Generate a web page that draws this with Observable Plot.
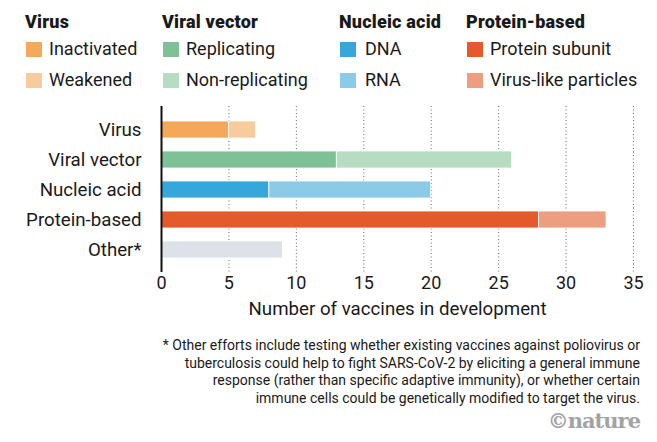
<!DOCTYPE html>
<html>
<head>
<meta charset="utf-8">
<script src="https://cdn.jsdelivr.net/npm/d3@7"></script>
<script src="https://cdn.jsdelivr.net/npm/@observablehq/plot@0.6"></script>
<style>
  html, body { margin: 0; padding: 0; background: #fff; }
  body { width: 657px; height: 442px; position: relative; overflow: hidden; font-family: Roboto, sans-serif; color: #1a1a1a; }
  .hdr { position: absolute; font-weight: 900; font-size: 18px; letter-spacing: 0.2px; line-height: 1; }
  .item { position: absolute; font-size: 18px; line-height: 1; display: flex; align-items: center; white-space: nowrap; }
  .sw { width: 16px; height: 15px; margin-right: 7px; flex: none; }
  #chart { position: absolute; left: 0; top: 90px; }
  #note { position: absolute; right: 17px; top: 337px; font-size: 14px; line-height: 17.6px; text-align: right; color: #1a1a1a; }
  #logo { position: absolute; right: 17px; top: 408px; font-family: "DejaVu Serif", serif; font-weight: 700; font-size: 21px; color: #a3a3a3; letter-spacing: -1px; }
</style>
</head>
<body>
<div id="legend"></div>
<div id="chart"></div>
<div id="note"></div>
<div id="logo">©nature</div>
<script>
// ---- data ----
const categories = ["Virus", "Viral vector", "Nucleic acid", "Protein-based", "Other*"];
const subtypes = ["Inactivated", "Weakened", "Replicating", "Non-replicating", "DNA", "RNA", "Protein subunit", "Virus-like particles", "Other"];
const subtypeCategory = ["Virus", "Virus", "Viral vector", "Viral vector", "Nucleic acid", "Nucleic acid", "Protein-based", "Protein-based", "Other*"];
const counts = [5, 2, 13, 13, 8, 12, 28, 5, 9];
const colors = ["#f4a85a", "#f8cb9c", "#7fc196", "#b6dcc2", "#35a7db", "#8bcbe8", "#e55a2b", "#ee9e80", "#dde2e9"];
const legendGroups = ["Virus", "Viral vector", "Nucleic acid", "Protein-based"];
const xTicks = [0, 5, 10, 15, 20, 25, 30, 35];
const xLabel = "Number of vaccines in development";
const noteLines = [
  "* Other efforts include testing whether existing vaccines against poliovirus or",
  "tuberculosis could help to fight SARS-CoV-2 by eliciting a general immune",
  "response (rather than specific adaptive immunity), or whether certain",
  "immune cells could be genetically modified to target the virus."
];

const data = subtypes.map((s, i) => ({subtype: s, category: subtypeCategory[i], count: counts[i]}));

// ---- legend ----
const colX = [25, 162, 339, 466];
const legend = document.getElementById("legend");
legendGroups.forEach((g, gi) => {
  const h = document.createElement("div");
  h.className = "hdr";
  h.style.left = colX[gi] + "px";
  h.style.top = "13px";
  h.textContent = g;
  legend.appendChild(h);
  subtypes.forEach((s, i) => {
    if (subtypeCategory[i] !== g) return;
    const k = subtypes.filter((t, j) => j < i && subtypeCategory[j] === g).length;
    const it = document.createElement("div");
    it.className = "item";
    it.style.left = (colX[gi] + 1) + "px";
    it.style.top = (40 + k * 31) + "px";
    const sw = document.createElement("span");
    sw.className = "sw";
    sw.style.background = colors[i];
    if (gi === 2) sw.style.marginRight = "9px";
    it.appendChild(sw);
    it.appendChild(document.createTextNode(s));
    legend.appendChild(it);
  });
});

// ---- chart ----
const chart = Plot.plot({
  width: 657,
  height: 230,
  marginLeft: 161,
  marginRight: 24,
  marginTop: 16,
  marginBottom: 48,
  style: {fontFamily: "Roboto, sans-serif", fontSize: "18px", color: "#1a1a1a", overflow: "visible", background: "transparent"},
  x: {domain: [0, 35]},
  y: {domain: categories, padding: 0.44},
  color: {domain: subtypes, range: colors},
  marks: [
    Plot.gridX(xTicks.slice(1), {stroke: "#555", strokeOpacity: 0.9, strokeWidth: 1, strokeDasharray: "1,2.5"}),
    Plot.barX(data, {x: "count", y: "category", fill: "subtype", stroke: "white", strokeWidth: 0.8}),
    Plot.ruleX([0], {stroke: "#111", strokeWidth: 2}),
    Plot.axisX({ticks: xTicks, tickSize: 0, tickPadding: 4, fontSize: 18, label: null}),
    Plot.axisX({ticks: [], label: xLabel, labelAnchor: "center", labelArrow: "none", labelOffset: 42, fontSize: 18.7}),
    Plot.axisY({tickSize: 0, tickPadding: 20, fontSize: 18.7, label: null})
  ]
});
document.getElementById("chart").appendChild(chart);

// ---- footnote ----
document.getElementById("note").innerHTML = noteLines.join("<br>");
</script>
</body>
</html>
